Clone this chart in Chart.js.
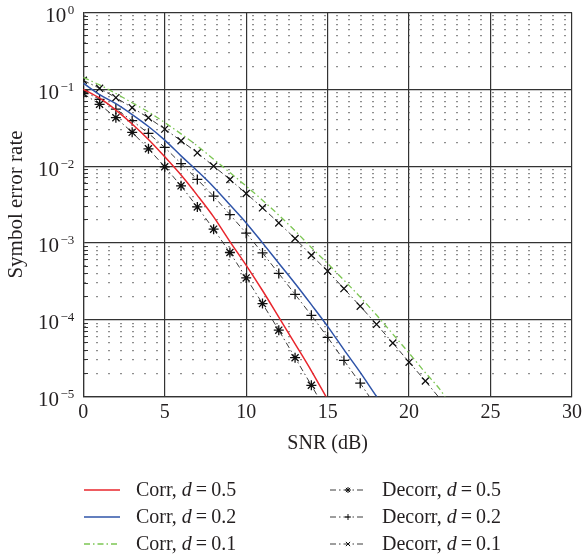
<!DOCTYPE html>
<html>
<head>
<meta charset="utf-8">
<script src="https://cdn.jsdelivr.net/npm/chart.js@4.4.1/dist/chart.umd.min.js"></script>
<style>
    html, body { margin: 0; padding: 0; background: #fff; }
    #wrap { position: relative; width: 586px; height: 556px; }
    #legend {
        position: absolute; left: 84px; top: 476px;
        display: grid; grid-template-columns: 246px 246px;
        grid-template-rows: repeat(3, 27px); grid-auto-flow: column;
        font: 20px "Liberation Serif", serif; color: #231f20;
    }
    .item { display: flex; align-items: center; height: 27px; white-space: nowrap; }
    .item canvas { margin-right: 16px; }
</style>
</head>
<body>
<div id="wrap">
    <canvas id="serChart" width="586" height="556"></canvas>
    <div id="legend"></div>
</div>
<script>
// SNR (dB) grid, one point per dB
const snr = [0, 1, 2, 3, 4, 5, 6, 7, 8, 9, 10, 11, 12, 13, 14, 15, 16, 17, 18, 19, 20, 21, 22, 23];
const decades = [-5, -4, -3, -2, -1, 0];

// Correlated receiver
const corr05 = [0.100, 0.0766, 0.0537, 0.0354, 0.0222, 0.0132, 0.00764, 0.00416, 0.00218, 0.00104,
    5.1e-4, 2.4e-4, 1.08e-4, 4.85e-5, 2.16e-5, 9.1e-6];
const corr02 = [0.120, 0.0851, 0.065, 0.0469, 0.0328, 0.0218, 0.0136, 0.00865, 0.00536, 0.00313,
    0.00182, 0.0010, 5.44e-4, 2.96e-4, 1.57e-4, 8.2e-5, 4.07e-5, 2.06e-5, 1.0e-5, 5e-6];
const corr01 = [0.143, 0.114, 0.0883, 0.0668, 0.0507, 0.0369, 0.0263, 0.0183, 0.0123, 0.00826,
    0.00548, 0.0036, 0.0023, 0.00144, 8.7e-4, 5.38e-4, 3.27e-4, 1.97e-4, 1.15e-4, 6.5e-5,
    3.67e-5, 2.04e-5, 1.15e-5, 5e-6];

// Decorrelating receiver
const decorr05 = [0.088, 0.0637, 0.0427, 0.0275, 0.0168, 0.0098, 0.00553, 0.00294, 0.00151, 7.5e-4,
    3.5e-4, 1.62e-4, 7.3e-5, 3.2e-5, 1.40e-5, 6.0e-6];
const decorr02 = [0.095, 0.074, 0.0553, 0.039, 0.0267, 0.0175, 0.0108, 0.0067, 0.00406, 0.00234,
    0.00134, 7.4e-4, 4.0e-4, 2.14e-4, 1.14e-4, 5.9e-5, 2.95e-5, 1.49e-5, 7.3e-6];
const decorr01 = [0.131, 0.103, 0.0778, 0.0576, 0.0426, 0.0303, 0.0214, 0.0149, 0.0100, 0.0067,
    0.0044, 0.00286, 0.00182, 0.00114, 6.9e-4, 4.3e-4, 2.54e-4, 1.50e-4, 8.7e-5, 4.97e-5,
    2.8e-5, 1.59e-5, 8.8e-6];

const FONT = '"Liberation Serif", serif';
const INK = '#231f20';
const GRID = '#333';

const pts = vals => vals.map((v, i) => ({ x: snr[i], y: v }));
const isDecade = v => Math.abs(Math.log10(v) - Math.round(Math.log10(v))) < 1e-6;

// 1..9 x 10^k ticks so the minor lines sit where matlab put them
function logTicks(scale) {
    const t = [];
    decades.forEach(p => {
        if (p === decades[decades.length - 1]) { t.push({ value: Math.pow(10, p) }); return; }
        for (let m = 1; m <= 9; m++) t.push({ value: m * Math.pow(10, p) });
    });
    scale.ticks = t;
}

const decorrStyle = {
    borderColor: '#3c3c3c', borderWidth: 1, borderDash: [6, 3, 1.5, 3],
    pointRadius: 5, pointBorderColor: '#111', pointBackgroundColor: '#111', pointBorderWidth: 1.3,
    tension: 0
};

const datasets = [
    { label: 'Corr, d = 0.5', data: pts(corr05), borderColor: '#e8262d', borderWidth: 1.5,
      pointRadius: 0, cubicInterpolationMode: 'monotone' },
    { label: 'Corr, d = 0.2', data: pts(corr02), borderColor: '#2f54a8', borderWidth: 1.5,
      pointRadius: 0, cubicInterpolationMode: 'monotone' },
    { label: 'Corr, d = 0.1', data: pts(corr01), borderColor: '#7cc653', borderWidth: 1.3,
      borderDash: [6, 3, 1.5, 3], pointRadius: 0, cubicInterpolationMode: 'monotone' },
    { label: 'Decorr, d = 0.5', data: pts(decorr05), pointStyle: 'star', ...decorrStyle },
    { label: 'Decorr, d = 0.2', data: pts(decorr02), pointStyle: 'cross', ...decorrStyle },
    { label: 'Decorr, d = 0.1', data: pts(decorr01), pointStyle: 'crossRot', ...decorrStyle }
];

// 10^n labels with a raised exponent
const decadeLabels = {
    id: 'decadeLabels',
    afterDraw(chart) {
        const s = chart.scales.y, c = chart.ctx;
        c.save();
        c.fillStyle = INK;
        c.textBaseline = 'alphabetic';
        c.textAlign = 'left';
        s.ticks.filter(t => isDecade(t.value)).forEach(t => {
            const y = s.getPixelForValue(t.value);
            const p = Math.round(Math.log10(t.value));
            const exp = p === 0 ? '0' : '\u2212' + (-p);
            c.font = '13px ' + FONT;
            const ew = c.measureText(exp).width;
            c.font = '21px ' + FONT;
            const bw = c.measureText('10').width;
            const right = s.right - 9;
            c.fillText('10', right - ew - bw - 1.5, y + 9.5);
            c.font = '13px ' + FONT;
            c.fillText(exp, right - ew, y + 1.5);
        });
        c.restore();
    }
};

const chart = new Chart(document.getElementById('serChart'), {
    type: 'line',
    data: { datasets },
    plugins: [decadeLabels],
    options: {
        responsive: false,
        animation: false,
        layout: { padding: { left: 0, top: 12.5, right: 10, bottom: 99.5 } },
        plugins: { legend: { display: false }, tooltip: { enabled: false } },
        scales: {
            x: {
                type: 'linear', min: 0, max: 30,
                ticks: { stepSize: 5, color: INK, font: { family: FONT, size: 20 }, padding: 4, autoSkip: false, maxRotation: 0 },
                grid: { color: GRID, lineWidth: 1.2, drawTicks: false },
                border: { color: GRID, width: 1.2 },
                title: { display: true, text: 'SNR (dB)', color: INK, font: { family: FONT, size: 20 }, padding: { top: 0, bottom: 1 } },
                afterFit: s => { s.height = 60; }
            },
            y: {
                type: 'logarithmic', min: 1e-5, max: 1,
                afterBuildTicks: logTicks,
                ticks: { autoSkip: false, callback: () => '' },
                grid: { color: ctx => (ctx.tick && isDecade(ctx.tick.value)) ? GRID : 'rgba(0,0,0,0)', lineWidth: 1.2, drawTicks: false },
                border: { color: GRID, width: 1.2 },
                title: { display: true, text: 'Symbol error rate', color: INK, font: { family: FONT, size: 21 }, padding: { top: 4, bottom: 0 } },
                afterFit: s => { s.width = 83.3; }
            },
            yDots: {
                type: 'logarithmic', min: 1e-5, max: 1, position: 'left',
                afterBuildTicks: logTicks,
                ticks: { display: false, autoSkip: false },
                grid: { color: ctx => (ctx.tick && !isDecade(ctx.tick.value)) ? '#444' : 'rgba(0,0,0,0)', lineWidth: 1.3, drawTicks: false },
                border: { display: false, dash: [1.2, 10.8], dashOffset: 10.6 }
            },
            yMinor: {
                type: 'logarithmic', min: 1e-5, max: 1, position: 'left',
                afterBuildTicks: logTicks,
                ticks: { display: false, autoSkip: false },
                grid: { color: ctx => (ctx.tick && !isDecade(ctx.tick.value)) ? GRID : 'rgba(0,0,0,0)', lineWidth: 1, drawTicks: false },
                border: { display: false, dash: [5, 2000] }
            }
        }
    }
});

// legend laid out in two columns like the figure
const legendEl = document.getElementById('legend');
chart.data.datasets.forEach(ds => {
    const item = document.createElement('div');
    item.className = 'item';
    const cv = document.createElement('canvas');
    cv.width = 36; cv.height = 14;
    const g = cv.getContext('2d');
    g.strokeStyle = ds.borderColor;
    g.fillStyle = ds.pointBorderColor || ds.borderColor;
    g.lineWidth = ds.borderWidth;
    g.setLineDash(ds.borderDash || []);
    g.beginPath(); g.moveTo(0, 7); g.lineTo(36, 7); g.stroke();
    if (ds.pointRadius && ds.pointStyle) {
        g.setLineDash([]);
        g.strokeStyle = ds.pointBorderColor;
        Chart.helpers.drawPoint(g, { pointStyle: ds.pointStyle, radius: 3, borderWidth: 1.1, rotation: 0 }, 18, 7);
    }
    const [name, val] = ds.label.split(', d = ');
    const txt = document.createElement('span');
    txt.innerHTML = name + ', <i>d</i>\u2009=\u20090' + val.slice(1);
    item.appendChild(cv);
    item.appendChild(txt);
    legendEl.appendChild(item);
});
</script>
</body>
</html>
